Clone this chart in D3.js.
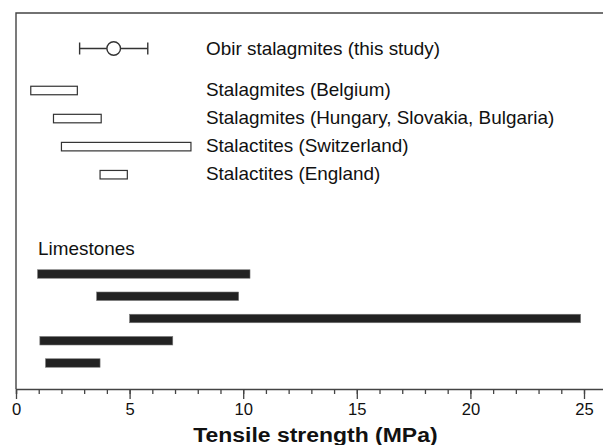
<!DOCTYPE html>
<html lang="en">
<head>
<meta charset="UTF-8">
<title>Tensile strength</title>
<style>
  body { margin: 0; background: #fff; }
  svg { display: block; font-family: "Liberation Sans", Arial, Helvetica, sans-serif; }
</style>
</head>
<body>
<div id="chart"></div>
<script src="https://d3js.org/d3.v7.min.js"></script>
<script>
// Obir stalagmites: range with mean
const obirLabel = "Obir stalagmites (this study)";
const obirRange = [2.8, 5.8];
const obirMean = 4.3;

// other speleothem studies
const speleoLabels = ["Stalagmites (Belgium)", "Stalagmites (Hungary, Slovakia, Bulgaria)",
  "Stalactites (Switzerland)", "Stalactites (England)"];
const speleoMin = [0.65, 1.65, 2.0, 3.7];
const speleoMax = [2.7, 3.75, 7.7, 4.9];

// limestones
const limeLabel = "Limestones";
const limeMin = [0.95, 3.55, 5.0, 1.05, 1.3];
const limeMax = [10.3, 9.8, 24.85, 6.9, 3.7];

const xTicks = [0, 5, 10, 15, 20, 25];
const xTitle = "Tensile strength (MPa)";

const W = 603, H = 445;
const plotLeft = 16, plotTop = 13, axisY = 389;

const svg = d3.select("#chart").append("svg")
  .attr("width", W).attr("height", H);

const x = d3.scaleLinear().domain([0, 27]).range([plotLeft, plotLeft + 27 * 22.72]);

const ySpeleo = d3.scalePoint().domain(speleoLabels).range([90.5, 174.7]);
const yObir = ySpeleo(speleoLabels[0]) - 42;
const yLime = d3.scalePoint().domain(d3.range(limeMin.length)).range([274, 363]);

const ink = "#333";

// the original lettering is a little wider than Liberation Sans
function label(px, py, txt, size, sx) {
  return svg.append("text")
    .attr("transform", `translate(${px},${py}) scale(${sx},1)`)
    .style("font-size", size + "px").attr("fill", "#111").text(txt);
}

// frame: left and top
svg.append("path")
  .attr("d", `M${plotLeft},${axisY}V${plotTop}H${W + 5}`)
  .attr("fill", "none").attr("stroke", "#444").attr("stroke-width", 1.4);

// x axis with minor ticks
const gx = svg.append("g").attr("transform", `translate(0,${axisY})`);
gx.call(d3.axisBottom(x).tickValues(d3.range(0, 27)).tickSize(5).tickFormat(""));
gx.append("g").call(d3.axisBottom(x).tickValues(xTicks).tickSize(10).tickPadding(4)
    .tickFormat(d3.format("d")))
  .call(g => g.select(".domain").remove());
gx.selectAll("path, line").attr("stroke", "#444").attr("stroke-width", 1.3);
gx.selectAll("text").attr("fill", "#111").style("font-size", "16.6px")
  .style("font-family", "'Liberation Sans', Arial, sans-serif");

label(x(13) + 4, 441.5, xTitle, 20.5, 1.12)
  .attr("text-anchor", "middle").style("font-weight", "bold");

// Obir error bar
const ob = svg.append("g").attr("stroke", ink).attr("stroke-width", 1.4).attr("fill", "#fff");
ob.append("line").attr("x1", x(obirRange[0])).attr("x2", x(obirRange[1]))
  .attr("y1", yObir).attr("y2", yObir);
obirRange.forEach(v => ob.append("line")
  .attr("x1", x(v)).attr("x2", x(v)).attr("y1", yObir - 6).attr("y2", yObir + 6));
ob.append("circle").attr("cx", x(obirMean)).attr("cy", yObir).attr("r", 6.8);

// open bars
const barH = 8.5;
svg.append("g").selectAll("rect").data(speleoLabels).join("rect")
  .attr("x", (d, i) => x(speleoMin[i]))
  .attr("width", (d, i) => x(speleoMax[i]) - x(speleoMin[i]))
  .attr("y", d => ySpeleo(d) - barH / 2).attr("height", barH)
  .attr("fill", "#fff").attr("stroke", ink).attr("stroke-width", 1.2);

// labels
const labelX = 206;
label(labelX, yObir + 6, obirLabel, 17.5, 1.08);
speleoLabels.forEach(d => label(labelX, ySpeleo(d) + 5.5, d, 17.5, 1.08));

// limestone bars
label(38, 255, limeLabel, 17.5, 1.08);
svg.append("g").selectAll("rect").data(limeMin).join("rect")
  .attr("x", d => x(d))
  .attr("width", (d, i) => x(limeMax[i]) - x(d))
  .attr("y", (d, i) => yLime(i) - barH / 2).attr("height", barH)
  .attr("fill", "#222").attr("stroke", "#777").attr("stroke-width", 0.6);
</script>
</body>
</html>
